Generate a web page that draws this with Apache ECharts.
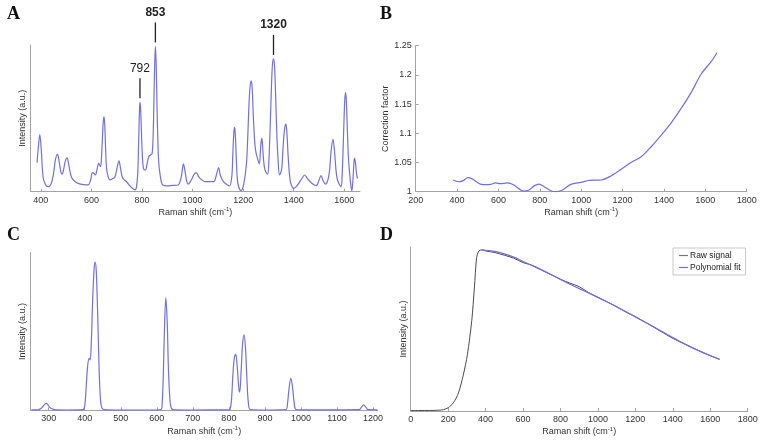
<!DOCTYPE html>
<html>
<head>
<meta charset="utf-8">
<script src="https://cdn.jsdelivr.net/npm/echarts@6.0.0/dist/echarts.min.js"></script>
<style>
html,body{margin:0;padding:0;background:#fff;}
#chart{width:765px;height:442px;}
</style>
</head>
<body>
<div id="chart"></div>
<script>
// ---------- Panel A: Raman spectrum ----------
const aShift = [385,390,396,402,409,418,429,440,450,458,466,473,480,485,490,497,504,510,521,535,547,570,587,597,604,610,616,622,629,636,640,644,647,650,653,656,659,663,673,685,693,700,709,715,722,730,739,755,772,778,783,787,790,792,795,799,803,808,814,820,827,834,840,844,847,850,853,856,859,863,867,871,876,882,900,920,943,955,964,970,977,983,995,1005,1014,1025,1037,1050,1083,1095,1103,1110,1122,1138,1146,1155,1159,1163,1166,1169,1173,1177,1182,1192,1202,1212,1217,1222,1227,1232,1236,1240,1245,1249,1256,1264,1268,1271,1274,1277,1281,1286,1291,1297,1302,1307,1312,1316,1320,1324,1328,1333,1338,1344,1352,1357,1362,1366,1369,1373,1378,1383,1388,1399,1410,1419,1432,1443,1452,1465,1477,1489,1500,1508,1516,1525,1535,1542,1548,1555,1561,1567,1573,1587,1591,1595,1599,1602,1605,1608,1612,1616,1621,1626,1630,1634,1638,1640,1644,1648,1652];
const aIntensity = [19.8,30,39,28,10,5,3.4,5,12,22,25.5,20,13,12,15,21,23,19,10,7,5.7,4.8,4.6,8,13,12.5,11.4,15,19.4,17,24,38,48,51,45,30,18,12.5,8,9,10,15,21,16,10,8,6.8,3.5,1.2,3,12,35,55,61,55,35,20,15,14.8,19,24,25,26,38,60,85,99,88,62,33,18,12.5,7,4.6,4,4.3,4.6,10,19,14,7,5.2,8,11.5,13,10,8,6.8,6.8,12,16.4,11,6.8,4.5,3.9,10,25,40,44,39,22,9,3.4,0.7,5,17,32,55,71,75.5,70,52,36,28.4,23,19,27,34,36.4,31,21,15,13,12,22,45,72,87,90.5,86,68,40,22,11.4,15,28,40,45,46,40,24,12,6,2.3,3.5,5.5,9,11.4,9.5,6.8,5,4.1,8,10.9,7.5,5.2,8,15,28,35.7,28,15,8,3.4,10,28,50,63,67.5,62,42,24,12.5,4,0.7,8,20,22.8,20,12.5,9];
const aPeakLabels = [792, 853, 1320];
const aPeakBold = [false, true, true];
const aTicks = [400, 600, 800, 1000, 1200, 1400, 1600];

// ---------- Panel B: correction factor ----------
const bShift = [380,408,430,452,473,493,513,540,562,586,610,642,675,707,723,748,772,796,821,853,877,910,950,999,1039,1096,1144,1192,1241,1290,1338,1387,1435,1484,1532,1580,1629,1656];
const bFactor = [1.020,1.017,1.019,1.024,1.022,1.017,1.013,1.012,1.0126,1.015,1.0137,1.015,1.0114,1.003,1.001,1.003,1.010,1.013,1.0086,1.0017,1.000,1.003,1.0126,1.016,1.0194,1.020,1.027,1.038,1.050,1.060,1.077,1.097,1.118,1.143,1.170,1.2016,1.223,1.238];

// ---------- Panel C: reference spectrum ----------
const cShift = [252,270,280,293,305,320,350,395,400,404,408,412,415,418,422,426,429,432,436,440,444,449,460,500,600,612,615,618,621,625,629,632,636,640,648,700,800,803,807,811,815,819,823,828,830,834,838,842,846,850,854,860,900,958,963,967,972,977,981,986,1000,1100,1162,1168,1174,1180,1186,1212];
const cIntensity = [0.3,0.3,1.5,4.4,1.5,0.3,0.2,0.4,3,15,28,33,32,42,70,90,94,88,60,25,6,1,0.3,0.2,0.2,0.5,5,22,50,71.5,55,28,8,1.5,0.3,0.2,0.3,0.5,6,22,33,35.5,28,13,11.5,25,42,47.8,40,20,5,0.5,0.2,0.5,5,14,20.3,14,5,0.5,0.3,0.3,0.4,2,3.4,2,0.4,0.3];
const cTicks = [300, 400, 500, 600, 700, 800, 900, 1000, 1100, 1200];

// ---------- Panel D: raw signal vs polynomial fit ----------
const dRawShift = [0,50,100,150,175,200,228,255,281,303,326,340,352,361,370,380,400,450,500,550,600,650,700,750,800,850,900,950,1000,1050,1100,1150,1200,1250,1300,1350,1400,1450,1500,1550,1600,1650];
const dRawIntensity = [0.3,0.3,0.3,0.5,0.8,2,5,11,22,34.5,55,75,93.5,97,98,98.2,97.6,96.6,95,93.2,90.5,88.8,86,83.2,80.3,78,75.8,72.2,69.3,66.5,63.6,60.3,57.5,54.3,51,47.6,44.3,41.5,38.9,36.2,33.7,31.5];
const dFitShift = [380,400,450,500,550,600,650,700,750,800,850,900,950,1000,1050,1100,1150,1200,1250,1300,1350,1400,1450,1500,1550,1600,1650];
const dFitIntensity = [98.4,98,97.3,95.8,93.8,91.2,88.6,85.9,83.1,80.2,77.3,74.6,72,69.3,66.5,63.5,60.5,57.4,54.3,51.2,48,44.8,41.7,38.8,36.2,33.8,31.5];
const dLegend = ['Raw signal', 'Polynomial fit'];

const panelLetters = ['A', 'B', 'C', 'D'];
const xName = 'Raman shift (cm{s|-1})';

// ---------- styling ----------
const FONT = 'Liberation Sans, Arial, Helvetica, sans-serif';
const BLUE = '#7070e6';
const AXIS = '#a3a3a3';
const TXT = '#333';
const plain = v => String(v);

const zip = (xs, ys) => xs.map((x, i) => [x, ys[i]]);

function labelCfg(extra) {
  return Object.assign({fontFamily: FONT, fontSize: 9, color: TXT, margin: 4, formatter: plain}, extra || {});
}
function tickCfg(extra) {
  return Object.assign({show: true, inside: true, length: 3, lineStyle: {color: AXIS}}, extra || {});
}
function xAxisCfg(grid, min, max, extra) {
  return Object.assign({
    type: 'value', gridIndex: grid, min: min, max: max,
    name: xName, nameLocation: 'middle', nameGap: 15,
    nameTextStyle: {fontFamily: FONT, fontSize: 9, color: TXT,
      rich: {s: {fontFamily: FONT, fontSize: 6, color: TXT, padding: [0, 0, 6, 0]}}},
    axisLine: {show: true, lineStyle: {color: AXIS, width: 1}},
    axisTick: tickCfg(),
    axisLabel: labelCfg(),
    splitLine: {show: false}
  }, extra || {});
}
function yAxisBlank(grid, nameGap) {
  return {
    type: 'value', gridIndex: grid, min: 0, max: 100,
    name: 'Intensity (a.u.)', nameLocation: 'middle', nameGap: nameGap,
    nameTextStyle: {fontFamily: FONT, fontSize: 9, color: TXT},
    axisLine: {show: true, lineStyle: {color: AXIS, width: 1}},
    axisTick: {show: false}, axisLabel: {show: false}, splitLine: {show: false}
  };
}

const aPeakData = aPeakLabels.map((p, i) => {
  const idx = aShift.indexOf(p);
  return {
    coord: [p, aIntensity[idx]], value: String(p),
    label: {fontWeight: aPeakBold[i] ? 'bold' : 'normal'}
  };
});

const chart = echarts.init(document.getElementById('chart'), null, {renderer: 'canvas'});
chart.setOption({
  animation: false,
  backgroundColor: '#fff',
  title: panelLetters.map((t, i) => ({
    text: t, padding: 0,
    left: [7, 380, 7, 380][i], top: [5, 5, 226, 226][i],
    textStyle: {fontFamily: 'Liberation Serif, Times New Roman, serif', fontWeight: 'bold', fontSize: 18, color: '#111'}
  })),
  legend: {
    data: dLegend, orient: 'vertical', left: 673, top: 248,
    icon: 'rect', itemWidth: 9, itemHeight: 1.2, itemGap: 3,
    padding: [3, 5, 3, 6], borderColor: '#bbb', borderWidth: 0.8,
    textStyle: {fontFamily: FONT, fontSize: 8.5, color: '#222', padding: [0, 0, 0, -3]}
  },
  grid: [
    {left: 30.7, top: 45, width: 329.3, height: 146.7},
    {left: 415.7, top: 45.7, width: 331, height: 146},
    {left: 30.7, top: 252.7, width: 347, height: 157.6},
    {left: 410.7, top: 247, width: 337, height: 164}
  ],
  xAxis: [
    xAxisCfg(0, 360, 1662, {axisLabel: labelCfg({customValues: aTicks}), axisTick: tickCfg({customValues: aTicks})}),
    xAxisCfg(1, 200, 1800, {interval: 200}),
    xAxisCfg(2, 250, 1213, {axisLabel: labelCfg({customValues: cTicks}), axisTick: tickCfg({customValues: cTicks})}),
    xAxisCfg(3, 0, 1800, {interval: 200})
  ],
  yAxis: [
    yAxisBlank(0, 4),
    {
      type: 'value', gridIndex: 1, min: 1, max: 1.25, interval: 0.05,
      name: 'Correction factor', nameLocation: 'middle', nameGap: 23,
      nameTextStyle: {fontFamily: FONT, fontSize: 9, color: TXT},
      axisLine: {show: true, lineStyle: {color: AXIS, width: 1}},
      axisTick: tickCfg(),
      axisLabel: labelCfg({formatter: v => String(+(+v).toFixed(2))}),
      splitLine: {show: false}
    },
    yAxisBlank(2, 4),
    yAxisBlank(3, 3)
  ],
  series: [
    {
      type: 'line', xAxisIndex: 0, yAxisIndex: 0, data: zip(aShift, aIntensity),
      smooth: 0.35, showSymbol: false, lineStyle: {color: BLUE, width: 1.2}, itemStyle: {color: BLUE},
      markPoint: {
        symbol: 'rect', symbolSize: [1.3, 20], symbolOffset: [0, -14],
        itemStyle: {color: '#222'},
        label: {show: true, position: 'top', distance: 4, color: '#222', fontFamily: FONT, fontSize: 12,
          formatter: p => p.value},
        data: aPeakData
      }
    },
    {
      type: 'line', xAxisIndex: 1, yAxisIndex: 1, data: zip(bShift, bFactor),
      smooth: 0.3, showSymbol: false, lineStyle: {color: BLUE, width: 1.2}, itemStyle: {color: BLUE}
    },
    {
      type: 'line', xAxisIndex: 2, yAxisIndex: 2, data: zip(cShift, cIntensity),
      smooth: 0.35, showSymbol: false, lineStyle: {color: BLUE, width: 1.2}, itemStyle: {color: BLUE}
    },
    {
      name: dLegend[0], type: 'line', xAxisIndex: 3, yAxisIndex: 3, data: zip(dRawShift, dRawIntensity),
      smooth: 0.3, showSymbol: false, lineStyle: {color: '#4a4a4a', width: 1}, itemStyle: {color: '#777'}
    },
    {
      name: dLegend[1], type: 'line', xAxisIndex: 3, yAxisIndex: 3, data: zip(dFitShift, dFitIntensity),
      smooth: 0.3, showSymbol: false, lineStyle: {color: BLUE, width: 1.2}, itemStyle: {color: BLUE}
    }
  ]
});
</script>
</body>
</html>
